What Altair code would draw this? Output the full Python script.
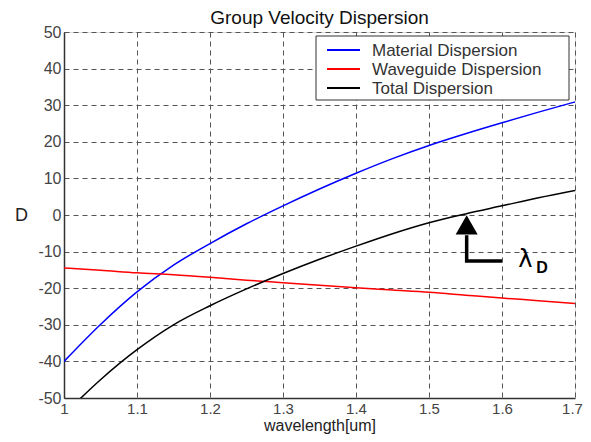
import altair as alt
import pandas as pd

# ---- data ----
wavelength = [1.00, 1.05, 1.10, 1.15, 1.20, 1.25, 1.30, 1.35, 1.40, 1.45, 1.50, 1.55, 1.60, 1.65, 1.70]
material = [-40.0, -29.9, -21.0, -13.7, -7.8, -2.4, 2.5, 7.1, 11.4, 15.4, 19.0, 22.2, 25.2, 28.1, 30.9]
waveguide = [-14.5, -15.1, -15.8, -16.3, -17.0, -17.8, -18.5, -19.2, -19.9, -20.5, -21.1, -21.9, -22.7, -23.4, -24.2]
total = [-54.5, -45.0, -36.8, -30.0, -24.8, -20.2, -16.0, -12.1, -8.5, -5.1, -2.1, 0.3, 2.5, 4.7, 6.7]

series_names = ["Material Dispersion", "Waveguide Dispersion", "Total Dispersion"]
series_colors = ["#0000ff", "#ff0000", "#000000"]

x_ticks = [1.0, 1.1, 1.2, 1.3, 1.4, 1.5, 1.6, 1.7]
y_ticks = [-50, -40, -30, -20, -10, 0, 10, 20, 30, 40, 50]

# annotation (lambda_D marker)
arrow_x = [1.5516, 1.5516, 1.60]
arrow_y = [-5.5, -12.6, -12.6]
head_x = [1.5516]
head_y = [-2.7]
lam_x = [1.632]
lam_y = [-12.3]
sub_x = [1.655]
sub_y = [-14.6]

FONT = "Liberation Sans"
W, H = 511, 366

rows = []
for name, vals in zip(series_names, [material, waveguide, total]):
    for xv, yv in zip(wavelength, vals):
        rows.append({"wavelength": xv, "D": yv, "series": name})
df = pd.DataFrame(rows)

xscale = alt.Scale(domain=[1.0, 1.7], nice=False, zero=False)
yscale = alt.Scale(domain=[-50, 50], nice=False, zero=False)

xaxis = alt.Axis(values=x_ticks, format="~g", title="wavelength[um]", grid=True,
                 gridDash=[5, 4], gridColor="#555555", gridOpacity=1, ticks=False,
                 domainColor="#333333", domainWidth=1.5, labelFont=FONT, labelFontSize=15,
                 labelColor="#444444", labelPadding=3, titleFont=FONT, titleFontSize=16,
                 titleFontWeight="normal", titleColor="#222222", titlePadding=1,
                 labelFlush=False, labelOverlap=False,
                 labelOffset={"condition": {"test": "datum.value >= 1.69", "value": -3},
                              "value": 0})
yaxis = alt.Axis(values=y_ticks, title="D", grid=True, gridDash=[5, 4], gridColor="#555555",
                 gridOpacity=1, ticks=False, domainColor="#333333", domainWidth=1.5,
                 labelExpr="datum.value < 0 ? '-' + abs(datum.value) : '' + datum.value",
                 labelFont=FONT, labelFontSize=16, labelColor="#444444", labelPadding=3,
                 titleFont=FONT, titleFontSize=18, titleFontWeight="normal",
                 titleColor="#222222", titleAngle=0, titleX=-43, titleY=183,
                 titleAlign="center", titleBaseline="middle", labelFlush=False,
                 labelOverlap=False)


def X(field):
    return alt.X(field, scale=xscale, axis=xaxis, title="wavelength[um]")


def Y(field):
    return alt.Y(field, scale=yscale, axis=yaxis, title="D")


lines = alt.Chart(df).mark_line(strokeWidth=1.5, clip=True, interpolate="monotone").encode(
    x=X("wavelength:Q"),
    y=Y("D:Q"),
    color=alt.Color("series:N",
                    scale=alt.Scale(domain=series_names, range=series_colors),
                    legend=None),
)

arrow_df = pd.DataFrame({"wavelength": arrow_x, "D": arrow_y, "o": [0, 1, 2]})
arrow = alt.Chart(arrow_df).mark_line(color="black", strokeWidth=3.5).encode(
    x=X("wavelength:Q"), y=Y("D:Q"), order="o:Q")

head_df = pd.DataFrame({"wavelength": head_x, "D": head_y})
head = alt.Chart(head_df).mark_point(shape="triangle-up", filled=True, color="black",
                                     opacity=1, size=484).encode(
    x=X("wavelength:Q"), y=Y("D:Q"))

lam_df = pd.DataFrame({"wavelength": lam_x, "D": lam_y, "t": ["λ"]})
lam = alt.Chart(lam_df).mark_text(font="DejaVu Sans", fontSize=24, color="black",
                                  align="center", baseline="middle").encode(
    x=X("wavelength:Q"), y=Y("D:Q"), text="t:N")

sub_df = pd.DataFrame({"wavelength": sub_x, "D": sub_y, "t": ["D"]})
sub = alt.Chart(sub_df).mark_text(font=FONT, fontSize=16, fontWeight="bold", color="black",
                                  align="center", baseline="middle").encode(
    x=X("wavelength:Q"), y=Y("D:Q"), text="t:N")

# ---- legend box drawn in the top-right corner of the plot ----
legend_layers = []
box = alt.Chart(pd.DataFrame({"a": [0]})).mark_rect(
    fill="white", stroke="#333333", strokeWidth=1).encode(
    x=alt.value(252), x2=alt.value(505), y=alt.value(4), y2=alt.value(68))
legend_layers.append(box)
for i, (name, col) in enumerate(zip(series_names, series_colors)):
    ypix = 18 + 19 * i
    one = pd.DataFrame({"t": [name]})
    legend_layers.append(
        alt.Chart(one).mark_rule(color=col, strokeWidth=2).encode(
            x=alt.value(263), x2=alt.value(296), y=alt.value(ypix)))
    legend_layers.append(
        alt.Chart(one).mark_text(font=FONT, fontSize=17, color="#333333", align="left",
                                 baseline="middle").encode(
            x=alt.value(308), y=alt.value(ypix + 1), text="t:N"))

chart = alt.layer(lines, arrow, head, lam, sub, *legend_layers).properties(
    width=W, height=H,
    title=alt.Title("Group Velocity Dispersion", font=FONT, fontSize=19,
                    fontWeight="normal", color="#111111", offset=-4),
    autosize=alt.AutoSizeParams(type="none"),
    padding={"left": 56, "top": 24, "right": 8, "bottom": 36},
).configure_view(stroke="#000000", strokeWidth=1).configure(background="white")

chart.save("out.html", embed_options={"renderer": "svg", "actions": False})
